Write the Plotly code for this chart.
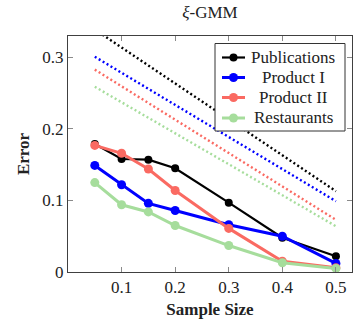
import plotly.graph_objects as go

# Sample sizes and measured error per dataset
sample_size = [0.05, 0.1, 0.15, 0.2, 0.3, 0.4, 0.5]
publications = [0.179, 0.158, 0.157, 0.145, 0.097, 0.048, 0.022]
product_1 = [0.149, 0.122, 0.096, 0.086, 0.066, 0.050, 0.012]
product_2 = [0.177, 0.166, 0.144, 0.114, 0.061, 0.015, 0.006]
restaurants = [0.125, 0.094, 0.084, 0.065, 0.037, 0.013, 0.005]

# Dotted reference bounds (endpoints at the smallest and largest sample size)
bound_x = [0.05, 0.5]
bound_publications = [0.339, 0.113]
bound_product_1 = [0.301, 0.099]
bound_product_2 = [0.283, 0.073]
bound_restaurants = [0.259, 0.064]

x_ticks = [0.1, 0.2, 0.3, 0.4, 0.5]
x_tick_labels = ["0.1", "0.2", "0.3", "0.4", "0.5"]
y_ticks = [0, 0.1, 0.2, 0.3]
y_tick_labels = ["0", "0.1", "0.2", "0.3"]

FONT = "Liberation Serif, Times New Roman, serif"
TEXT = "#222222"
series = [
    ("Publications", publications, bound_publications, "#000000", 2.2, 8),
    ("Product I", product_1, bound_product_1, "#0000ff", 3, 9),
    ("Product II", product_2, bound_product_2, "#fa6a62", 3, 9),
    ("Restaurants", restaurants, bound_restaurants, "#a6dd9c", 3, 9),
]

W, H = 353, 320
M_L, M_R, M_T, M_B = 68, 1, 36, 48
PLOT_W = W - M_L - M_R
PLOT_H = H - M_T - M_B


def px_to_paper(px, py):
    """Convert a pixel position on the page to paper coordinates."""
    return (px - M_L) / PLOT_W, (H - M_B - py) / PLOT_H


fig = go.Figure()

for name, _, bound, color, _, _ in series:
    fig.add_trace(go.Scatter(
        x=bound_x, y=bound, mode="lines", showlegend=False, hoverinfo="skip",
        line=dict(color=color, width=2.4, dash="2px,2.6px"),
    ))

for name, vals, _, color, lw, ms in series:
    fig.add_trace(go.Scatter(
        x=sample_size, y=vals, mode="lines+markers", name=name,
        showlegend=False,
        line=dict(color=color, width=lw),
        marker=dict(color=color, size=ms, symbol="circle"),
    ))

# Boxed legend with centred labels, drawn in paper coordinates
box_x0, box_y1 = px_to_paper(215, 43.5)
box_x1, box_y0 = px_to_paper(345, 131)
shapes = [dict(type="rect", xref="paper", yref="paper",
               x0=box_x0, x1=box_x1, y0=box_y0, y1=box_y1,
               line=dict(color="#333333", width=1), fillcolor="white",
               layer="above")]
annotations = []
row_y = [57.5, 77.5, 97.5, 118]
for (name, _, _, color, lw, ms), ry in zip(series, row_y):
    lx0, ly = px_to_paper(222, ry)
    lx1, _ = px_to_paper(245, ry)
    mx, _ = px_to_paper(233.5, ry)
    tx, _ = px_to_paper(293, ry)
    shapes.append(dict(type="line", xref="paper", yref="paper",
                       x0=lx0, x1=lx1, y0=ly, y1=ly,
                       line=dict(color=color, width=lw), layer="above"))
    r = ms / 2
    shapes.append(dict(type="circle", xref="paper", yref="paper",
                       xsizemode="pixel", ysizemode="pixel",
                       xanchor=mx, yanchor=ly,
                       x0=-r, x1=r, y0=-r, y1=r,
                       line=dict(color=color, width=0), fillcolor=color,
                       layer="above"))
    annotations.append(dict(text=name, xref="paper", yref="paper",
                            x=tx, y=ly, xanchor="center", yanchor="middle",
                            showarrow=False,
                            font=dict(family=FONT, size=17, color=TEXT)))

axis_common = dict(
    showline=True, linecolor="#404040", linewidth=1, mirror="ticks",
    ticks="inside", ticklen=5, tickcolor="#8a8a8a", tickwidth=1,
    showgrid=False, zeroline=False,
    tickfont=dict(family=FONT, size=17, color=TEXT),
)

fig.update_layout(
    width=W, height=H,
    margin=dict(l=M_L, r=M_R, t=M_T, b=M_B),
    font=dict(family=FONT, size=17, color=TEXT),
    paper_bgcolor="white", plot_bgcolor="white",
    title=dict(text="<i>ξ</i>-GMM", x=0.5, xref="paper", xanchor="center",
               y=1 - 12 / 320, yref="container", yanchor="middle",
               font=dict(family=FONT, size=17, color=TEXT)),
    xaxis=dict(range=[0, 0.53], tickvals=x_ticks, ticktext=x_tick_labels,
               title=dict(text="<b>Sample Size</b>", standoff=6,
                          font=dict(family=FONT, size=17, color=TEXT)),
               **axis_common),
    yaxis=dict(range=[0, 0.33], tickvals=y_ticks, ticktext=y_tick_labels,
               title=dict(text="<b>Error</b>", standoff=8,
                          font=dict(family=FONT, size=17, color=TEXT)),
               **axis_common),
    shapes=shapes,
    annotations=annotations,
    showlegend=False,
)

fig.write_html("out.html")
